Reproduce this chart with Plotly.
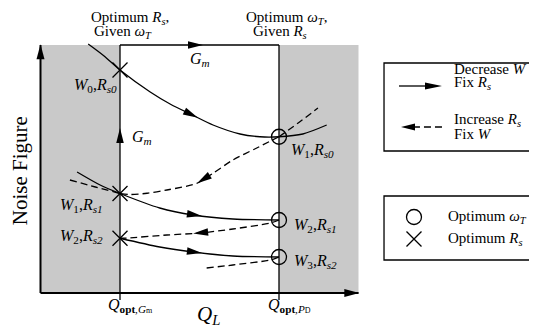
import numpy as np
import plotly.graph_objects as go

# Q_L positions of the two optima and the end of the axis
q_opt_gm = 1.0
q_opt_pd = 3.0
q_end = 4.0
nf_top = 9.92

# Decrease W, fix Rs (solid paths)
solid_a_q = [0.60, 0.80, 1.00, 1.38, 1.63, 1.91, 2.17, 2.51, 2.76, 3.00, 3.30, 3.60]
solid_a_nf = [9.96, 9.48, 8.92, 8.04, 7.56, 7.12, 6.72, 6.36, 6.25, 6.25, 6.36, 6.72]
solid_b_q = [0.46, 0.75, 1.00, 1.50, 1.92, 2.42, 3.00]
solid_b_nf = [4.84, 4.32, 3.98, 3.40, 3.12, 2.96, 2.92]
solid_c_q = [1.00, 1.50, 1.92, 2.42, 3.00]
solid_c_nf = [2.19, 1.84, 1.64, 1.48, 1.44]

# Increase Rs, fix W (dashed paths)
dash_a_q = [3.00, 3.25, 3.49]
dash_a_nf = [6.25, 6.82, 7.40]
dash_b_q = [3.00, 2.72, 2.42, 2.17, 1.97, 1.59, 1.34, 1.13, 1.00]
dash_b_nf = [6.25, 5.80, 5.32, 4.79, 4.39, 4.12, 3.99, 3.94, 3.98]
dash_c_q = [0.37, 0.69, 1.00]
dash_c_nf = [4.52, 4.24, 3.98]
dash_d_q = [3.00, 2.89, 2.42, 2.01, 1.59, 1.09, 1.00]
dash_d_nf = [2.92, 2.80, 2.56, 2.40, 2.32, 2.20, 2.19]
dash_e_q = [2.09, 2.42, 2.89, 3.00]
dash_e_nf = [1.00, 1.12, 1.32, 1.44]

# optimum points
opt_rs_q = [1.0, 1.0, 1.0]
opt_rs_nf = [8.92, 3.98, 2.19]
opt_wt_q = [3.0, 3.0, 3.0]
opt_wt_nf = [6.25, 2.92, 1.44]

# the page body has an 8px margin, so the figure is 8px smaller each way
W, H = 529, 322
X_RANGE = [-0.4088, 6.2453]
Y_RANGE = [-1.48, 11.40]
PX_X = W / (X_RANGE[1] - X_RANGE[0])
PX_Y = H / (Y_RANGE[1] - Y_RANGE[0])
FONT = "Liberation Serif"
GRAY = "#c9c9c9"

fig = go.Figure()


def curve(q, nf, dashed=False):
    fig.add_trace(go.Scatter(
        x=q, y=nf, mode="lines", hoverinfo="skip",
        line=dict(color="black", width=1.3, shape="spline", smoothing=0.8,
                  dash="7px,4px" if dashed else "solid")))


def on_curve(q, nf, at):
    order = np.argsort(q)
    return float(np.interp(at, np.array(q)[order], np.array(nf)[order]))


def head(tip_q, tip_nf, tail_q, tail_nf, length=15, width=7.5):
    dx = (tip_q - tail_q) * PX_X
    dy = (tip_nf - tail_nf) * PX_Y
    n = np.hypot(dx, dy)
    ux, uy = dx / n, dy / n
    bx, by = -ux * length, -uy * length
    wx, wy = -uy * width / 2, ux * width / 2
    xs = [tip_q, tip_q + (bx + wx) / PX_X, tip_q + (bx - wx) / PX_X, tip_q]
    ys = [tip_nf, tip_nf + (by + wy) / PX_Y, tip_nf + (by - wy) / PX_Y, tip_nf]
    fig.add_trace(go.Scatter(x=xs, y=ys, mode="lines", fill="toself",
                             fillcolor="black", line=dict(width=0, color="black"),
                             hoverinfo="skip"))


def head_on(q, nf, tail, tip, **kw):
    head(tip, on_curve(q, nf, tip), tail, on_curve(q, nf, tail), **kw)


def line(x0, y0, x1, y1, width=1.3, dash="solid"):
    fig.add_shape(type="line", x0=x0, y0=y0, x1=x1, y1=y1,
                  line=dict(color="black", width=width, dash=dash))


def text(x, y, s, size=15, xanchor="center", angle=0):
    fig.add_annotation(x=x, y=y, text=s, showarrow=False, xanchor=xanchor,
                       yanchor="middle", textangle=angle, borderpad=0,
                       font=dict(family=FONT, size=size, color="black"))


def markers(q, nf, symbol):
    fig.add_trace(go.Scatter(x=q, y=nf, mode="markers", hoverinfo="skip",
                             marker=dict(symbol=symbol, size=15, color="black",
                                         line=dict(color="black", width=1.3))))


# shaded regions
for x0, x1 in [(0, q_opt_gm), (q_opt_pd, q_end)]:
    fig.add_shape(type="rect", x0=x0, x1=x1, y0=0, y1=nf_top,
                  fillcolor=GRAY, line=dict(width=0), layer="below")

# frame and axes
line(q_opt_gm, nf_top, q_opt_pd, nf_top)
line(q_opt_gm, -0.28, q_opt_gm, nf_top)
line(q_opt_pd, -0.28, q_opt_pd, nf_top)
line(0, 0, q_end, 0, width=2)
line(0, 0, 0, nf_top, width=2)
head(q_end + 0.01, 0, 0, 0, length=15, width=8)
head(0, nf_top + 0.03, 0, 0, length=15, width=8)
head(2.044, nf_top, 1.85, nf_top)
head(q_opt_gm, 6.6, q_opt_gm, 6.0)

# curves
for q, nf in [(solid_a_q, solid_a_nf), (solid_b_q, solid_b_nf), (solid_c_q, solid_c_nf)]:
    curve(q, nf)
for q, nf in [(dash_a_q, dash_a_nf), (dash_b_q, dash_b_nf), (dash_c_q, dash_c_nf),
              (dash_d_q, dash_d_nf), (dash_e_q, dash_e_nf)]:
    curve(q, nf, dashed=True)

head_on(solid_a_q, solid_a_nf, 1.80, 1.98)
head_on(dash_b_q, dash_b_nf, 2.17, 1.97)
head_on(solid_b_q, solid_b_nf, 1.84, 2.03)
head_on(dash_d_q, dash_d_nf, 2.17, 1.92)
head_on(solid_c_q, solid_c_nf, 1.84, 2.03)

# optimum markers
markers(opt_rs_q, opt_rs_nf, "x-thin-open")
markers(opt_wt_q, opt_wt_nf, "circle-open")

# point labels
text(0.975, 8.32, "<i>W</i><sub>0</sub>,<i>R<sub>s0</sub></i>", size=16, xanchor="right")
text(3.138, 5.72, "<i>W</i><sub>1</sub>,<i>R<sub>s0</sub></i>", size=16, xanchor="left")
text(0.80, 3.52, "<i>W</i><sub>1</sub>,<i>R<sub>s1</sub></i>", size=16, xanchor="right")
text(3.176, 2.72, "<i>W</i><sub>2</sub>,<i>R<sub>s1</sub></i>", size=16, xanchor="left")
text(0.80, 2.28, "<i>W</i><sub>2</sub>,<i>R<sub>s2</sub></i>", size=16, xanchor="right")
text(3.176, 1.28, "<i>W</i><sub>3</sub>,<i>R<sub>s2</sub></i>", size=16, xanchor="left")
text(2.006, 9.36, "<i>G<sub>m</sub></i>", size=16)
text(1.277, 6.24, "<i>G<sub>m</sub></i>", size=16)

# titles above
text(0.623, 11.02, "Optimum <i>R<sub>s</sub></i>,", xanchor="left")
text(0.66, 10.46, "Given <i>ω<sub>T</sub></i>", xanchor="left")
text(2.572, 11.02, "Optimum <i>ω<sub>T</sub></i>,", xanchor="left")
text(2.66, 10.46, "Given <i>R<sub>s</sub></i>", xanchor="left")

# axis labels
text(0.836, -0.48, "<i>Q</i><sub><b>opt</b>,<i>G</i><span style='font-size:8px'>m</span></sub>",
     size=16, xanchor="left")
text(2.849, -0.48, "<i>Q</i><sub><b>opt</b>,<i>P</i><span style='font-size:8px'>D</span></sub>",
     size=16, xanchor="left")
text(2.107, -0.88, "<i>Q<sub>L</sub></i>", size=21)
text(-0.255, 4.88, "Noise Figure", size=21, angle=-90)

# legend 1
fig.add_shape(type="rect", x0=4.321, x1=6.35, y0=5.68, y1=9.2,
              line=dict(color="black", width=1.3))
line(4.509, 8.28, 4.85, 8.28)
head(5.05, 8.28, 4.509, 8.28, length=17, width=7)
line(5.05, 6.64, 4.70, 6.64, dash="7px,4px")
head(4.535, 6.64, 5.05, 6.64, length=14, width=7)
text(5.189, 8.96, "Decrease <i>W</i>", xanchor="left")
text(5.189, 8.42, "Fix <i>R<sub>s</sub></i>", xanchor="left")
text(5.189, 6.94, "Increase <i>R<sub>s</sub></i>", xanchor="left")
text(5.189, 6.38, "Fix <i>W</i>", xanchor="left")

# legend 2
fig.add_shape(type="rect", x0=4.321, x1=6.35, y0=1.32, y1=3.88,
              line=dict(color="black", width=1.3))
markers([4.698], [3.04], "circle-open")
markers([4.698], [2.16], "x-thin-open")
text(5.113, 3.04, "Optimum <i>ω<sub>T</sub></i>", xanchor="left")
text(5.113, 2.16, "Optimum <i>R<sub>s</sub></i>", xanchor="left")

fig.update_layout(
    width=W, height=H, autosize=False,
    margin=dict(l=0, r=0, t=0, b=0),
    paper_bgcolor="white", plot_bgcolor="white",
    showlegend=False,
    xaxis=dict(range=X_RANGE, visible=False, fixedrange=True),
    yaxis=dict(range=Y_RANGE, visible=False, fixedrange=True),
)

fig.write_html("out.html")
